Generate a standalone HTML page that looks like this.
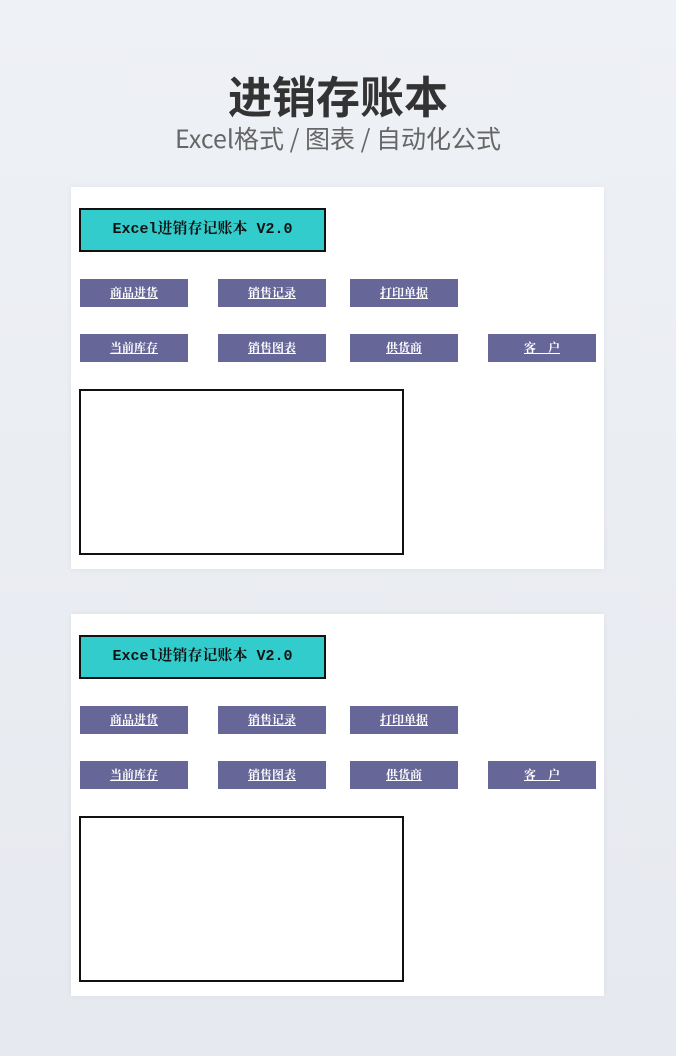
<!DOCTYPE html>
<html><head><meta charset="utf-8"><style>
body{margin:0;width:676px;height:1056px;background:linear-gradient(#eef1f5,#e6e9ef);position:relative;overflow:hidden;font-family:"Liberation Sans","Noto Sans CJK SC",sans-serif}
.t{position:absolute;left:0;width:676px;text-align:center}
.card{position:absolute;left:71px;width:533px;height:382px;background:#fff;box-shadow:0 0 6px rgba(0,0,0,.06)}
.hb{position:absolute;left:8px;top:21px;width:243px;height:40px;background:#33cccc;border:2px solid #111;font-family:"Liberation Mono","Noto Serif CJK SC",serif;font-size:15px;line-height:40px;text-align:center;color:#111;font-weight:bold}
.b{position:absolute;width:108px;height:28px;background:#666699;color:#fff;font-size:12px;font-weight:bold;text-decoration:underline;line-height:28px;text-align:center;font-family:"Noto Serif CJK SC",serif}
.box{position:absolute;left:8px;top:202px;width:321px;height:162px;border:2px solid #111}
</style></head><body>
<div class="t" style="top:64px;font-size:44px;font-weight:bold;color:#333;line-height:60px;font-family:'Noto Sans CJK SC',sans-serif">进销存账本</div>
<div class="t" style="top:120px;font-size:25px;color:#666;line-height:36px;font-family:'Noto Sans CJK SC',sans-serif">Excel格式 / 图表 / 自动化公式</div>
<div class="card" style="top:187px">
<div class="hb">Excel进销存记账本 V2.0</div>
<div class="b" style="left:9px;top:92px">商品进货</div>
<div class="b" style="left:147px;top:92px">销售记录</div>
<div class="b" style="left:279px;top:92px">打印单据</div>
<div class="b" style="left:9px;top:147px">当前库存</div>
<div class="b" style="left:147px;top:147px">销售图表</div>
<div class="b" style="left:279px;top:147px">供货商</div>
<div class="b" style="left:417px;top:147px">客　户</div>
<div class="box"></div>
</div>
<div class="card" style="top:614px">
<div class="hb">Excel进销存记账本 V2.0</div>
<div class="b" style="left:9px;top:92px">商品进货</div>
<div class="b" style="left:147px;top:92px">销售记录</div>
<div class="b" style="left:279px;top:92px">打印单据</div>
<div class="b" style="left:9px;top:147px">当前库存</div>
<div class="b" style="left:147px;top:147px">销售图表</div>
<div class="b" style="left:279px;top:147px">供货商</div>
<div class="b" style="left:417px;top:147px">客　户</div>
<div class="box"></div>
</div>
</body></html>
